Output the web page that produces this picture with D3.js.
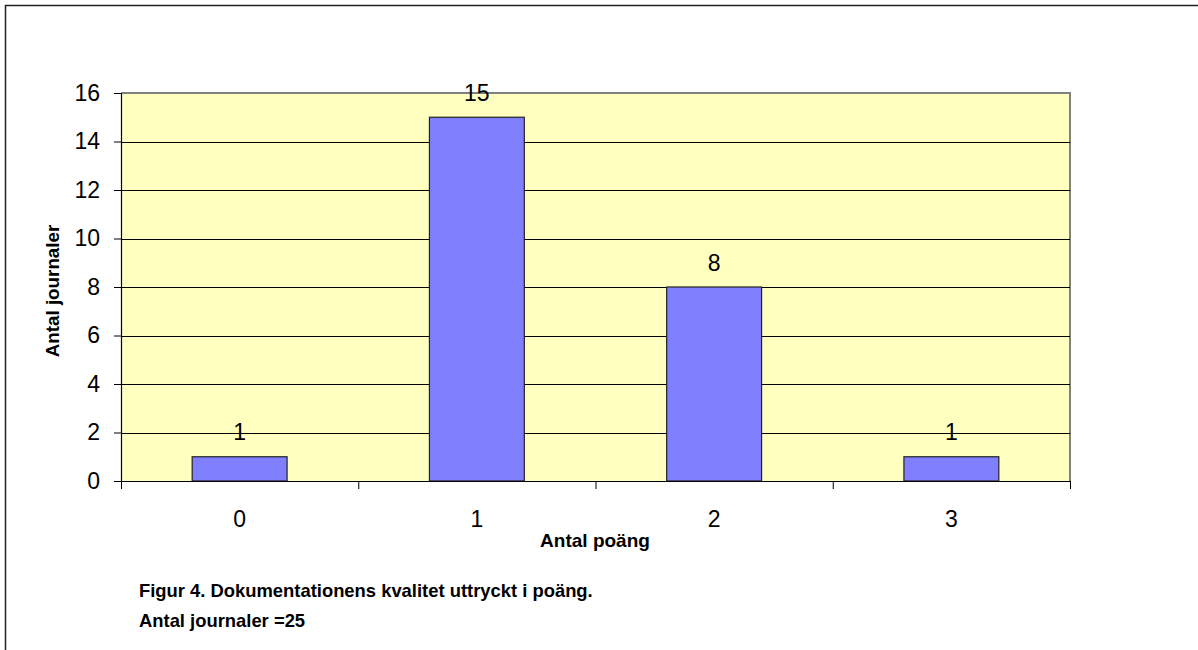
<!DOCTYPE html>
<html>
<head>
<meta charset="utf-8">
<script src="https://cdn.jsdelivr.net/npm/d3@7"></script>
<style>
  html, body { margin: 0; padding: 0; background: #ffffff; }
  svg { display: block; }
  text { font-family: Arial, "Liberation Sans", sans-serif; fill: #000; }
</style>
</head>
<body>
<svg id="chart" width="1198" height="650"></svg>
<script>
const categories = ["0", "1", "2", "3"];
const values = [1, 15, 8, 1];
const yTicks = [0, 2, 4, 6, 8, 10, 12, 14, 16];
const yTitle = "Antal journaler";
const xTitle = "Antal poäng";
const captionLines = ["Figur 4. Dokumentationens kvalitet uttryckt i poäng.", "Antal journaler =25"];

const svg = d3.select("#chart");
const W = 1198, H = 650;
const plot = { left: 121, top: 93, right: 1070, bottom: 481 };
const FONT = "Arial, 'Liberation Sans', sans-serif";

// outer frame
svg.append("rect")
  .attr("x", 5.5).attr("y", 5.5)
  .attr("width", W + 20).attr("height", H + 20)
  .attr("fill", "#fff").attr("stroke", "#222").attr("stroke-width", 1.5);

const x = d3.scaleBand().domain(categories)
  .range([plot.left, plot.right]).paddingInner(0.6).paddingOuter(0.3);
const xOuter = d3.scaleBand().domain(categories).range([plot.left, plot.right]).padding(0);
const y = d3.scaleLinear().domain([0, 16]).range([plot.bottom, plot.top]);

// plot background
svg.append("rect")
  .attr("x", plot.left).attr("y", plot.top)
  .attr("width", plot.right - plot.left).attr("height", plot.bottom - plot.top)
  .attr("fill", "#FFFFC0");

// plot border (grey) top and right
svg.append("path")
  .attr("d", `M${plot.left},${plot.top}H${plot.right}V${plot.bottom}`)
  .attr("fill", "none").attr("stroke", "#808080").attr("stroke-width", 2);

// gridlines
svg.append("g").selectAll("line")
  .data(yTicks.filter(t => t > 0 && t < 16))
  .join("line")
  .attr("x1", plot.left).attr("x2", plot.right)
  .attr("y1", d => Math.round(y(d)) + 0.5).attr("y2", d => Math.round(y(d)) + 0.5)
  .attr("stroke", "#000").attr("stroke-width", 1);

// bars
svg.append("g").selectAll("rect")
  .data(values)
  .join("rect")
  .attr("x", (d, i) => x(categories[i]))
  .attr("y", d => y(d))
  .attr("width", x.bandwidth())
  .attr("height", d => y(0) - y(d))
  .attr("fill", "#8080FF")
  .attr("stroke", "#222").attr("stroke-width", 1.2);

// data labels
svg.append("g").selectAll("text")
  .data(values)
  .join("text")
  .attr("x", (d, i) => x(categories[i]) + x.bandwidth() / 2)
  .attr("y", d => y(d) - 16.5)
  .attr("text-anchor", "middle")
  .attr("font-size", 23)
  .text(d => d);

// y axis
const yAxis = svg.append("g")
  .attr("transform", `translate(${plot.left},0)`)
  .call(d3.axisLeft(y).tickValues(yTicks).tickSize(7).tickPadding(14).tickFormat(d3.format("d")));
yAxis.select(".domain").attr("stroke", "#000").attr("stroke-width", 1.2);
yAxis.selectAll(".tick line").attr("stroke", "#000");
yAxis.selectAll(".tick text").attr("font-size", 23).attr("font-family", FONT).attr("fill", "#000");

// x axis with ticks at category boundaries
const xAxisG = svg.append("g").attr("transform", `translate(0,${plot.bottom})`);
xAxisG.append("line")
  .attr("x1", plot.left).attr("x2", plot.right)
  .attr("y1", 0.5).attr("y2", 0.5)
  .attr("stroke", "#000").attr("stroke-width", 1.2);
const bounds = categories.map(c => xOuter(c)).concat([xOuter.range()[1]]);
xAxisG.selectAll("line.tk").data(bounds).join("line")
  .attr("class", "tk")
  .attr("x1", d => d + 0.5).attr("x2", d => d + 0.5)
  .attr("y1", 0).attr("y2", 8)
  .attr("stroke", "#000");
xAxisG.selectAll("text.lbl").data(categories).join("text")
  .attr("class", "lbl")
  .attr("x", d => xOuter(d) + xOuter.bandwidth() / 2)
  .attr("y", 527 - plot.bottom)
  .attr("text-anchor", "middle")
  .attr("font-size", 23)
  .text(d => d);

// axis titles
svg.append("text")
  .attr("transform", `translate(58.5,291) rotate(-90)`)
  .attr("text-anchor", "middle")
  .attr("font-size", 18.8).attr("font-weight", "bold")
  .text(yTitle);

svg.append("text")
  .attr("x", 595).attr("y", 546.5)
  .attr("text-anchor", "middle")
  .attr("font-size", 19).attr("font-weight", "bold")
  .text(xTitle);

// caption
svg.append("g").selectAll("text").data(captionLines).join("text")
  .attr("x", 139).attr("y", (d, i) => 597 + i * 30)
  .attr("font-size", 18.4).attr("font-weight", "bold")
  .text(d => d);
</script>
</body>
</html>
